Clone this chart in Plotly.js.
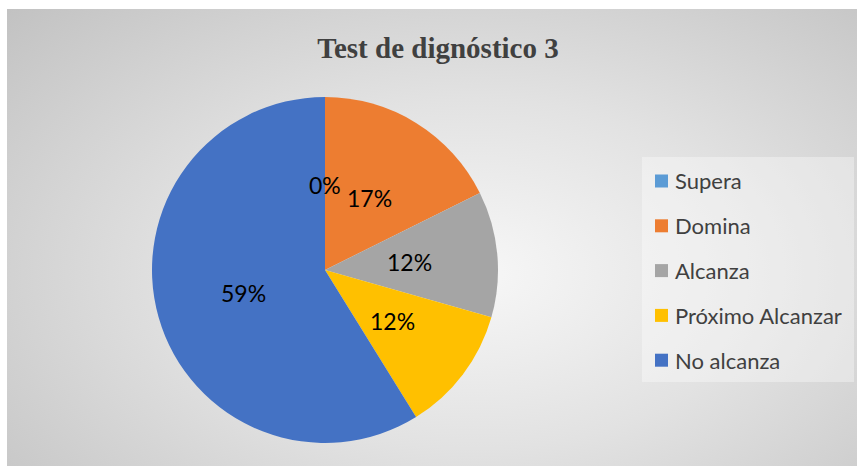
<!DOCTYPE html>
<html>
<head>
<meta charset="utf-8">
<script src="https://cdn.plot.ly/plotly-3.0.1.min.js"></script>
<style>
  html, body { margin: 0; padding: 0; background: #ffffff; }
  #bg { position: absolute; left: 7px; top: 9px; width: 850px; height: 457px;
        background: radial-gradient(ellipse 75% 85% at 55% 58%, #f7f7f7 0%, #e2e2e2 45%, #c2c2c2 100%); }
  #chart { position: absolute; left: 0; top: 0; width: 859px; height: 466px; }
</style>
</head>
<body>
<div id="bg"></div>
<div id="chart"></div>
<script>
const chartTitle = "Test de dignóstico 3";
const categories = ["Supera", "Domina", "Alcanza", "Próximo Alcanzar", "No alcanza"];
// slice sizes
const counts = [0, 3, 2, 2, 10];
// data labels as printed on the chart
const pctLabels = ["0%", "17%", "12%", "12%", "59%"];
const colors = ["#5B9BD5", "#ED7D31", "#A5A5A5", "#FFC000", "#4472C4"];

const W = 859, H = 466;
const dom = { x: [152 / W, 498 / W], y: [(H - 443) / H, (H - 97) / H] };
const font = "Lato, 'Open Sans', sans-serif";

const trace = {
  type: "pie",
  labels: categories,
  values: counts,
  text: pctLabels,
  marker: { colors: colors, line: { width: 0 } },
  sort: false,
  direction: "clockwise",
  rotation: 0,
  textinfo: "none",
  hoverinfo: "label+text",
  showlegend: false,
  domain: dom
};

const shapes = [];
const annotations = [];

// data labels (Office style, at half radius on each slice's mid-angle), positioned from the values
const total = counts.reduce((a, b) => a + b, 0);
const cx = (dom.x[0] + dom.x[1]) / 2, cy = (dom.y[0] + dom.y[1]) / 2;
const rx = (dom.x[1] - dom.x[0]) / 2 * 0.49, ry = (dom.y[1] - dom.y[0]) / 2 * 0.49;
let cum = 0;
counts.forEach((v, i) => {
  const mid = (cum + v / 2) / total * 2 * Math.PI;
  cum += v;
  annotations.push({
    xref: "paper", yref: "paper",
    x: cx + rx * Math.sin(mid), y: cy + ry * Math.cos(mid),
    xanchor: "center", yanchor: "middle", showarrow: false,
    text: pctLabels[i],
    font: { family: font, size: 23, color: "#000000" }
  });
});

// manual legend (Office-style spacing), built from the categories
shapes.push({
  type: "rect", xref: "paper", yref: "paper",
  x0: 642 / W, x1: 854 / W, y0: 1 - 382 / H, y1: 1 - 157 / H,
  fillcolor: "rgba(255,255,255,0.35)", line: { width: 0 }
});
const legTop = 181, legStep = 44.8;
categories.forEach((c, i) => {
  const yc = legTop + i * legStep;
  shapes.push({
    type: "rect", xref: "paper", yref: "paper",
    x0: 655 / W, x1: 668 / W, y0: 1 - (yc + 6.5) / H, y1: 1 - (yc - 6.5) / H,
    fillcolor: colors[i], line: { width: 0 }
  });
  annotations.push({
    xref: "paper", yref: "paper", x: 673 / W, y: 1 - yc / H,
    xanchor: "left", yanchor: "middle", showarrow: false, text: c,
    font: { family: font, size: 22, color: "#404040" }
  });
});

const layout = {
  width: W, height: H,
  margin: { l: 0, r: 0, t: 0, b: 0 },
  paper_bgcolor: "rgba(0,0,0,0)",
  plot_bgcolor: "rgba(0,0,0,0)",
  title: {
    text: "<b>" + chartTitle + "</b>",
    x: 438 / W, xanchor: "center", y: 1 - 48 / H, yanchor: "middle",
    font: { family: "'Liberation Serif', 'Times New Roman', serif", size: 29, color: "#404040" }
  },
  shapes: shapes,
  annotations: annotations
};

Plotly.newPlot("chart", [trace], layout, { displayModeBar: false, staticPlot: true });
</script>
</body>
</html>
